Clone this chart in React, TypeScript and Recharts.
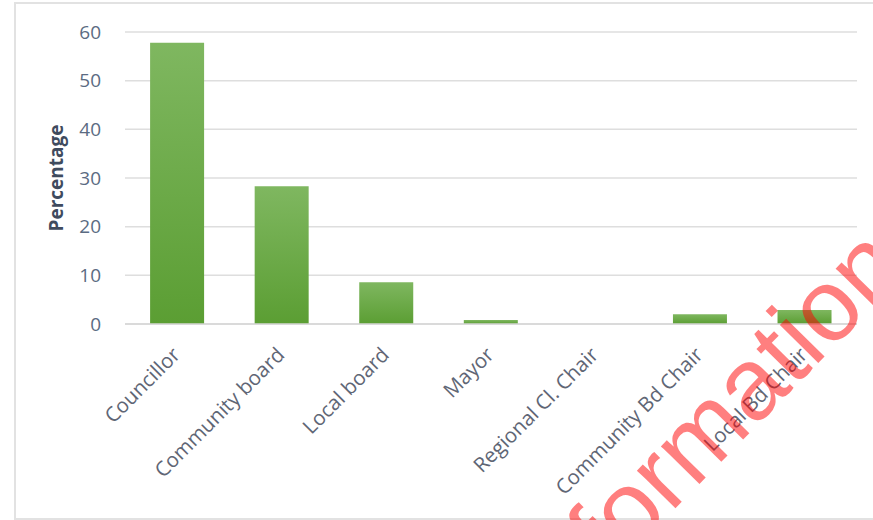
import { Bar, BarChart, CartesianGrid, XAxis, YAxis } from "recharts";

const ROLES = [
  "Councillor",
  "Community board",
  "Local board",
  "Mayor",
  "Regional Cl. Chair",
  "Community Bd Chair",
  "Local Bd Chair",
];
const PERCENTAGES = [57.8, 28.3, 8.6, 0.8, 0, 2.0, 2.9];
const Y_TICKS = [0, 10, 20, 30, 40, 50, 60];

const data = ROLES.map((role, i) => ({ role, value: PERCENTAGES[i] }));

const FONT = "'Open Sans', 'Liberation Sans', sans-serif";

function RoleTick({ x, y, payload }: any) {
  const tx = x - 1;
  const ty = y + 19;
  return (
    <text
      x={tx}
      y={ty}
      transform={`rotate(-45 ${tx} ${ty})`}
      textAnchor="end"
      dy="0.35em"
      fill="#5f6675"
      fontSize={20.5}
      fontFamily={FONT}
    >
      {payload.value}
    </text>
  );
}

export default function App() {
  return (
    <div style={{ position: "absolute", left: 0, top: 0, width: 873, height: 520, background: "#fff", overflow: "hidden" }}>
      <div
        style={{
          position: "absolute",
          left: 14,
          top: 2,
          width: 870,
          height: 514,
          borderLeft: "2px solid #e2e2e2",
          borderTop: "2px solid #e2e2e2",
          borderBottom: "2px solid #e2e2e2",
        }}
      />
      <BarChart
        width={873}
        height={520}
        data={data}
        margin={{ top: 32, right: 16, left: 0, bottom: 0 }}
        barCategoryGap="24%"
        style={{ position: "absolute", left: 0, top: 0 }}
      >
        <defs>
          <linearGradient id="barFill" x1="0" y1="0" x2="0" y2="1">
            <stop offset="0%" stopColor="#7fb760" />
            <stop offset="100%" stopColor="#5b9e33" />
          </linearGradient>
        </defs>
        <CartesianGrid vertical={false} stroke="#dedede" strokeWidth={1.5} />
        <XAxis
          dataKey="role"
          height={196}
          interval={0}
          tick={<RoleTick />}
          tickLine={false}
          axisLine={{ stroke: "#d6d6d6", strokeWidth: 1.5 }}
        />
        <YAxis
          width={125}
          domain={[0, 60]}
          ticks={Y_TICKS}
          tickLine={false}
          axisLine={false}
          tickMargin={18}
          tick={{ fill: "#5b6b82", fontSize: 19, fontFamily: FONT }}
          label={{
            value: "Percentage",
            angle: -90,
            position: "center",
            dx: -6,
            fill: "#3f4b5e",
            fontSize: 19,
            fontWeight: 700,
            fontFamily: FONT,
          }}
        />
        <Bar dataKey="value" fill="url(#barFill)" isAnimationActive={false} />
      </BarChart>
      <svg width={873} height={520} style={{ position: "absolute", left: 0, top: 0, pointerEvents: "none" }}>
        <text
          x={611}
          y={574}
          transform="rotate(-45.5 611 574)"
          fontSize={102}
          fontFamily="'Liberation Sans', Arial, sans-serif"
          fill="#ff0000"
          fillOpacity={0.5}
        >
          formation
        </text>
      </svg>
    </div>
  );
}
